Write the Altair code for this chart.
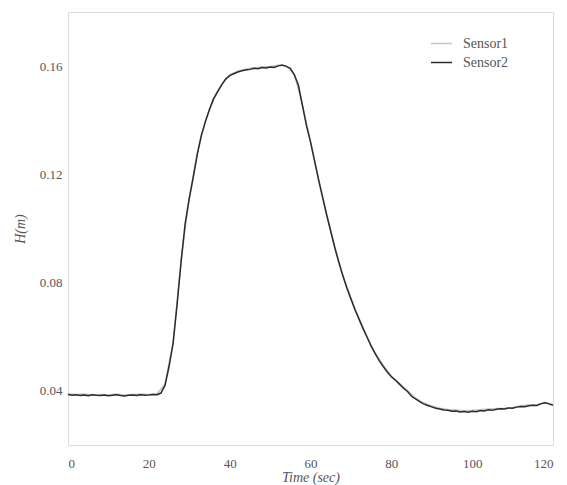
import altair as alt
import pandas as pd

# Sensor2 : 1-second samples, t = 0..120
t2 = list(range(0, 121))
sensor2 = [
    0.0387, 0.0384, 0.0386, 0.0383, 0.0385, 0.0382, 0.0386, 0.0384, 0.0383, 0.0385,
    0.0382, 0.0384, 0.0386, 0.0383, 0.0381, 0.0384, 0.0385, 0.0383, 0.0386, 0.0384,
    0.0385, 0.0387, 0.0386, 0.0392, 0.0420, 0.0490, 0.0575, 0.0720, 0.0880, 0.1020,
    0.1110, 0.1190, 0.1275, 0.1345, 0.1395, 0.1440, 0.1478, 0.1505, 0.1530, 0.1552,
    0.1565, 0.1572, 0.1578, 0.1583, 0.1586, 0.1588, 0.1592, 0.1590, 0.1595, 0.1593,
    0.1597, 0.1595, 0.1601, 0.1604, 0.1599, 0.1592, 0.1568, 0.1530, 0.1455, 0.1380,
    0.1320, 0.1250, 0.1180, 0.1115, 0.1050, 0.0990, 0.0930, 0.0875, 0.0825, 0.0780,
    0.0740, 0.0700, 0.0665, 0.0630, 0.0598, 0.0565, 0.0538, 0.0512, 0.0490, 0.0470,
    0.0452, 0.0440, 0.0425, 0.0410, 0.0398, 0.0380, 0.0370, 0.0360, 0.0352, 0.0346,
    0.0341, 0.0336, 0.0333, 0.0329, 0.0328, 0.0325, 0.0326, 0.0322, 0.0324, 0.0321,
    0.0325, 0.0323, 0.0327, 0.0326, 0.0330, 0.0328, 0.0332, 0.0334, 0.0333, 0.0337,
    0.0336, 0.0340, 0.0342, 0.0341, 0.0345, 0.0347, 0.0346, 0.0352, 0.0356, 0.0352,
    0.0347,
]

# Sensor1 : 2-second samples, t = 0..120
t1 = list(range(0, 121, 2))
sensor1 = [
    0.0389, 0.0387, 0.0388, 0.0386, 0.0387, 0.0385, 0.0388, 0.0385, 0.0387, 0.0388,
    0.0387, 0.0389, 0.0425, 0.0580, 0.0885, 0.1115, 0.1280, 0.1398, 0.1482, 0.1533,
    0.1568, 0.1581, 0.1589, 0.1594, 0.1597, 0.1599, 0.1603, 0.1601, 0.1570, 0.1458,
    0.1323, 0.1183, 0.1053, 0.0933, 0.0828, 0.0743, 0.0668, 0.0601, 0.0541, 0.0493,
    0.0455, 0.0428, 0.0401, 0.0373, 0.0355, 0.0344, 0.0336, 0.0331, 0.0329, 0.0327,
    0.0328, 0.0330, 0.0333, 0.0335, 0.0336, 0.0339, 0.0345, 0.0348, 0.0349, 0.0358,
    0.0350,
]

series_names = ["Sensor1", "Sensor2"]
series_colors = ["#c4c4c4", "#2b2b2b"]
x_ticks = [0, 20, 40, 60, 80, 100, 120]
y_ticks = [0.04, 0.08, 0.12, 0.16]

df = pd.concat([
    pd.DataFrame({"t": t1, "H": sensor1, "series": "Sensor1", "ord": 0}),
    pd.DataFrame({"t": t2, "H": sensor2, "series": "Sensor2", "ord": 1}),
])

FONT = "Liberation Serif"

chart = alt.Chart(df).mark_line(strokeWidth=1.5).encode(
    x=alt.X("t:Q",
            scale=alt.Scale(domain=[0, 120], nice=False),
            axis=alt.Axis(values=x_ticks, title="Time (sec)", titleFontStyle="italic",
                          labelPadding=12, titlePadding=0, format="d")),
    y=alt.Y("H:Q",
            scale=alt.Scale(domain=[0.02, 0.18], nice=False, zero=False),
            axis=alt.Axis(values=y_ticks, title="H(m)", titleFontStyle="italic",
                          labelPadding=6, titlePadding=12, format=".2f")),
    color=alt.Color("series:N",
                    scale=alt.Scale(domain=series_names, range=series_colors),
                    legend=alt.Legend(title=None, orient="none", legendX=362, legendY=20,
                                      symbolType="stroke", symbolSize=441, symbolStrokeWidth=1.5,
                                      labelFont=FONT, labelFontSize=14, labelColor="#555",
                                      labelOffset=10, rowPadding=0, padding=0)),
    order=alt.Order("ord:Q"),
    detail="series:N",
).properties(
    width=485, height=433,
    autosize=alt.AutoSizeParams(type="none"),
    padding={"left": 60, "top": 4, "right": 6, "bottom": 40},
).configure_view(
    stroke="#dcdcdc", strokeWidth=1
).configure_axis(
    domain=False, ticks=False, grid=False,
    labelFont=FONT, labelFontSize=13, labelColor="#555",
    titleFont=FONT, titleFontSize=14, titleColor="#555", titleFontWeight="normal",
)

chart.save("out.html", embed_options={"renderer": "svg", "actions": False})
